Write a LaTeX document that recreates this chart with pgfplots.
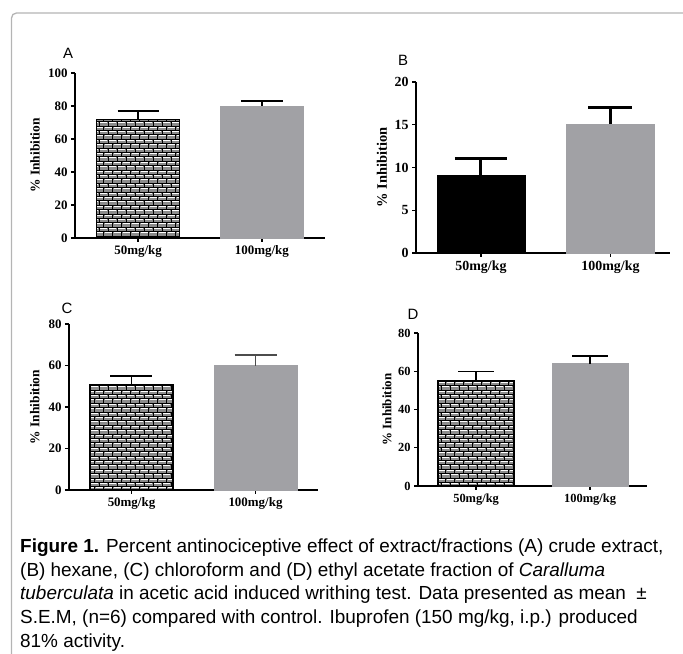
\documentclass[border=0pt]{standalone}
\usepackage{fontspec}
\setmainfont{Liberation Sans}
\newfontfamily\tnr{Liberation Serif}
\usepackage{pgfplots}
\pgfplotsset{compat=1.18}
\usetikzlibrary{patterns}

\definecolor{barg}{RGB}{161,161,165}
\definecolor{brickbg}{RGB}{140,140,140}
\definecolor{frameg}{RGB}{180,180,180}

% brick texture of the 50 mg/kg bars
\pgfdeclarepatternformonly{brickk}{\pgfpoint{-0.5bp}{-0.5bp}}{\pgfpoint{9.5bp}{9.3bp}}{\pgfpoint{9bp}{8.8bp}}{%
  \pgfsetlinewidth{0.9bp}%
  \pgfpathmoveto{\pgfpoint{0bp}{0bp}}\pgfpathlineto{\pgfpoint{9bp}{0bp}}%
  \pgfpathmoveto{\pgfpoint{0bp}{4.4bp}}\pgfpathlineto{\pgfpoint{9bp}{4.4bp}}%
  \pgfpathmoveto{\pgfpoint{0bp}{0bp}}\pgfpathlineto{\pgfpoint{0bp}{4.4bp}}%
  \pgfpathmoveto{\pgfpoint{4.5bp}{4.4bp}}\pgfpathlineto{\pgfpoint{4.5bp}{8.8bp}}%
  \pgfusepath{stroke}}
\pgfdeclarepatternformonly{brickw}{\pgfpoint{-0.5bp}{-0.5bp}}{\pgfpoint{9.5bp}{9.3bp}}{\pgfpoint{9bp}{8.8bp}}{%
  \pgfsetlinewidth{0.8bp}%
  \pgfpathmoveto{\pgfpoint{1bp}{3.4bp}}\pgfpathlineto{\pgfpoint{8bp}{3.4bp}}%
  \pgfpathmoveto{\pgfpoint{-3.5bp}{7.8bp}}\pgfpathlineto{\pgfpoint{3.5bp}{7.8bp}}%
  \pgfpathmoveto{\pgfpoint{5.5bp}{7.8bp}}\pgfpathlineto{\pgfpoint{12.5bp}{7.8bp}}%
  \pgfusepath{stroke}}

\pgfplotsset{
  panel/.style={
    scale only axis, anchor=south west,
    axis x line*=bottom, axis y line*=left,
    axis line style={line width=1.6bp, black},
    tick style={line width=1.4bp, black},
    tick align=outside, major tick length=4bp,
    xtick={1,2}, xticklabels={50mg/kg,100mg/kg},
    ymin=0, enlargelimits=false,
    /pgf/number format/assume math mode=true,
    ybar, clip=false,
    ylabel={\% Inhibition},
  },
  brickbar/.style={bar shift=0pt, fill=brickbg, draw=black, line width=1.3bp,
    postaction={pattern=brickk, pattern color=black},
    postaction={pattern=brickw, pattern color=white}},
  greybar/.style={bar shift=0pt, fill=barg, draw=barg, line width=0.5bp},
}

\begin{document}
\begin{tikzpicture}
\path[use as bounding box] (0bp,0bp) rectangle (683bp,654bp);
\draw[frameg, line width=1.3bp, rounded corners=5bp] (11.5bp,0bp) -- (11.5bp,641bp) -- (684bp,641bp);

% Panel A
\begin{axis}[panel, at={(75bp,416bp)}, width=250bp, height=165bp,
  xmin=0.49, xmax=2.51, ymax=100, ytick={0,20,...,100},
  tick label style={font=\tnr\bfseries\fontsize{13}{13}\selectfont},
  ylabel style={font=\tnr\bfseries\fontsize{13.5}{13.5}\selectfont, at={(rel axis cs:-0.16,0.5)}, anchor=center},
  bar width=0.67]
\addplot[brickbar, error bars/.cd, y dir=plus, y explicit,
  error bar style={line width=1.4bp, black, solid},
  error mark options={rotate=90, line width=1.4bp, black, mark size=20.5bp}]
  coordinates {(1,72) +- (0,5)};
\addplot[greybar, error bars/.cd, y dir=plus, y explicit,
  error bar style={line width=1.4bp, black, solid},
  error mark options={rotate=90, line width=1.4bp, black, mark size=21bp}]
  coordinates {(2,80) +- (0,3)};
\end{axis}
\node[font=\fontsize{15}{15}\selectfont] at (68bp,601bp) {A};

% Panel B
\begin{axis}[panel, at={(416bp,401bp)}, width=254bp, height=171bp,
  xmin=0.498, xmax=2.46, ymax=20, ytick={0,5,...,20},
  tick label style={font=\tnr\bfseries\fontsize{14}{14}\selectfont},
  ylabel style={font=\tnr\bfseries\fontsize{14.5}{14.5}\selectfont, at={(rel axis cs:-0.134,0.5)}, anchor=center},
  bar width=0.68]
\addplot[bar shift=0pt, fill=black, draw=black, line width=0.5bp,
  error bars/.cd, y dir=plus, y explicit,
  error bar style={line width=3bp, black, solid},
  error mark options={rotate=90, line width=3bp, black, mark size=26bp}]
  coordinates {(1,9.1) +- (0,1.9)};
\addplot[greybar, error bars/.cd, y dir=plus, y explicit,
  error bar style={line width=3bp, black, solid},
  error mark options={rotate=90, line width=3bp, black, mark size=22bp}]
  coordinates {(2,15.1) +- (0,1.9)};
\end{axis}
\node[font=\fontsize{15}{15}\selectfont] at (403bp,594bp) {B};

% Panel C
\begin{axis}[panel, at={(69bp,164bp)}, width=249bp, height=166bp,
  xmin=0.496, xmax=2.504, ymax=80, ytick={0,20,...,80},
  tick label style={font=\tnr\bfseries\fontsize{13}{13}\selectfont},
  ylabel style={font=\tnr\bfseries\fontsize{13.5}{13.5}\selectfont, at={(rel axis cs:-0.137,0.5)}, anchor=center},
  bar width=0.67]
\addplot[brickbar, error bars/.cd, y dir=plus, y explicit,
  error bar style={line width=1.4bp, black, solid},
  error mark options={rotate=90, line width=1.4bp, black, mark size=21bp}]
  coordinates {(1,51) +- (0,4)};
\addplot[greybar, error bars/.cd, y dir=plus, y explicit,
  error bar style={line width=1.4bp, black!70, solid},
  error mark options={rotate=90, line width=1.4bp, black!70, mark size=21bp}]
  coordinates {(2,60) +- (0,5)};
\end{axis}
\node[font=\fontsize{15}{15}\selectfont] at (67bp,346bp) {C};

% Panel D
\begin{axis}[panel, at={(418bp,168bp)}, width=229bp, height=153bp,
  xmin=0.49, xmax=2.5, ymax=80, ytick={0,20,...,80},
  tick label style={font=\tnr\bfseries\fontsize{12.5}{12.5}\selectfont},
  ylabel style={font=\tnr\bfseries\fontsize{13}{13}\selectfont, at={(rel axis cs:-0.135,0.5)}, anchor=center},
  bar width=0.667]
\addplot[brickbar, error bars/.cd, y dir=plus, y explicit,
  error bar style={line width=1.4bp, black, solid},
  error mark options={rotate=90, line width=1.4bp, black, mark size=18bp}]
  coordinates {(1,55) +- (0,5)};
\addplot[greybar, error bars/.cd, y dir=plus, y explicit,
  error bar style={line width=1.4bp, black, solid},
  error mark options={rotate=90, line width=1.4bp, black, mark size=18bp}]
  coordinates {(2,64) +- (0,4)};
\end{axis}
\node[font=\fontsize{15}{15}\selectfont] at (413bp,340bp) {D};

% caption
\begin{scope}[every node/.style={anchor=base west, inner sep=0pt, font=\fontsize{19}{19}\selectfont}]
\node at (20bp,101bp) {\textbf{Figure 1.} Percent antinociceptive effect of extract/fractions (A) crude extract,};
\node at (20bp,77.5bp) {(B) hexane, (C) chloroform and (D) ethyl acetate fraction of \textit{Caralluma}};
\node at (20bp,54bp) {\textit{tuberculata} in acetic acid induced writhing test. Data presented as mean \ ±};
\node at (20bp,30.5bp) {S.E.M, (n=6) compared with control. Ibuprofen (150 mg/kg, i.p.) produced};
\node at (20bp,7bp) {81\% activity.};
\end{scope}
\end{tikzpicture}
\end{document}
